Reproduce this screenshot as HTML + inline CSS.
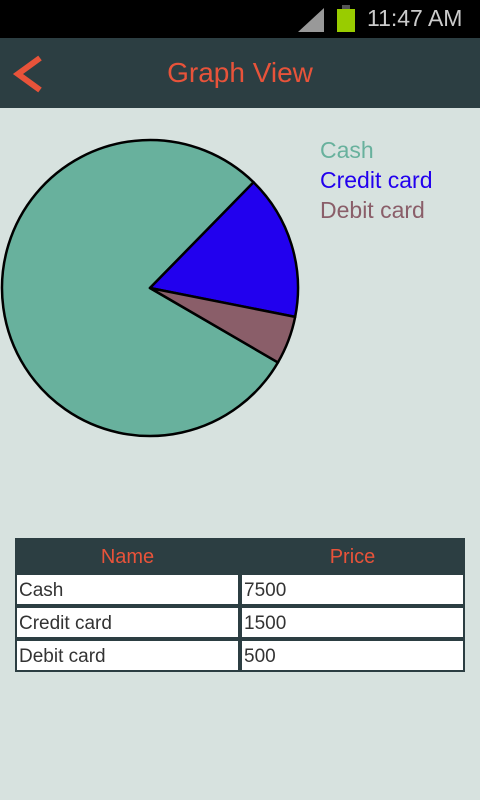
<!DOCTYPE html>
<html><head><meta charset="utf-8"><style>
*{margin:0;padding:0;box-sizing:border-box}
body{width:480px;height:800px;background:#d7e2df;font-family:"Liberation Sans",sans-serif;position:relative;overflow:hidden}
.abs{position:absolute}
.cell{position:absolute;background:#fff;color:#333;font-size:19px;line-height:31px;padding-left:2px}
.hd{position:absolute;color:#e8533a;font-size:20px;line-height:38px;text-align:center}
</style></head><body>
<div class="abs" style="left:0;top:0;width:480px;height:38px;background:#000">
  <svg class="abs" style="left:296px;top:4px" width="30" height="28"><polygon points="2,28 28,4 28,28" fill="#999"/></svg>
  <div class="abs" style="left:337px;top:9px;width:18px;height:23px;background:#99cc00"></div>
  <div class="abs" style="left:342px;top:5px;width:8px;height:4px;background:#555"></div>
  <div class="abs" style="left:367px;top:5px;color:#ccc;font-size:23px">11:47 AM</div>
</div>
<div class="abs" style="left:0;top:38px;width:480px;height:70px;background:#2c3e42">
  <svg class="abs" style="left:10px;top:16px" width="36" height="40"><polyline points="30,4 8,20 30,36" fill="none" stroke="#e8533a" stroke-width="6"/></svg>
  <div class="abs" style="left:0;width:480px;top:19px;text-align:center;color:#e8533a;font-size:28px">Graph View</div>
</div>
<svg id="pie" class="abs" style="left:0;top:108px" width="480" height="420"></svg>
<div class="abs" style="left:320px;top:135px;font-size:23px;line-height:30px">
  <div style="color:#68b19d">Cash</div>
  <div style="color:#2200ee">Credit card</div>
  <div style="color:#8a5e69">Debit card</div>
</div>
<div class="abs" style="left:15px;top:538px;width:450px;height:134px;background:#2c3e42">
  <div class="hd" style="left:0;width:225px">Name</div>
  <div class="hd" style="left:225px;width:225px">Price</div>
  <div class="cell" style="left:2px;top:37px;width:221px;height:29px">Cash</div>
  <div class="cell" style="left:227px;top:37px;width:221px;height:29px">7500</div>
  <div class="cell" style="left:2px;top:70px;width:221px;height:29px">Credit card</div>
  <div class="cell" style="left:227px;top:70px;width:221px;height:29px">1500</div>
  <div class="cell" style="left:2px;top:103px;width:221px;height:29px">Debit card</div>
  <div class="cell" style="left:227px;top:103px;width:221px;height:29px">500</div>
</div>
<script>
const categories=["Cash","Credit card","Debit card"];
const values=[7500,1500,500];
const colors=["#68b19d","#2200ee","#8a5e69"];
const svg=document.getElementById('pie');
const cx=150,cy=180,r=148;
const total=values.reduce((a,b)=>a+b,0);
let a=30.2*Math.PI/180;
values.forEach((v,i)=>{
  const da=v/total*2*Math.PI;
  const x1=cx+r*Math.cos(a),y1=cy+r*Math.sin(a);
  const x2=cx+r*Math.cos(a+da),y2=cy+r*Math.sin(a+da);
  const p=document.createElementNS('http://www.w3.org/2000/svg','path');
  p.setAttribute('d',`M${cx},${cy}L${x1},${y1}A${r},${r} 0 ${da>Math.PI?1:0} 1 ${x2},${y2}Z`);
  p.setAttribute('fill',colors[i]);
  p.setAttribute('stroke','#000');
  p.setAttribute('stroke-width','2.5');
  p.setAttribute('stroke-linejoin','round');
  
  
  svg.appendChild(p);
  a+=da;
});
</script>
</body></html>
